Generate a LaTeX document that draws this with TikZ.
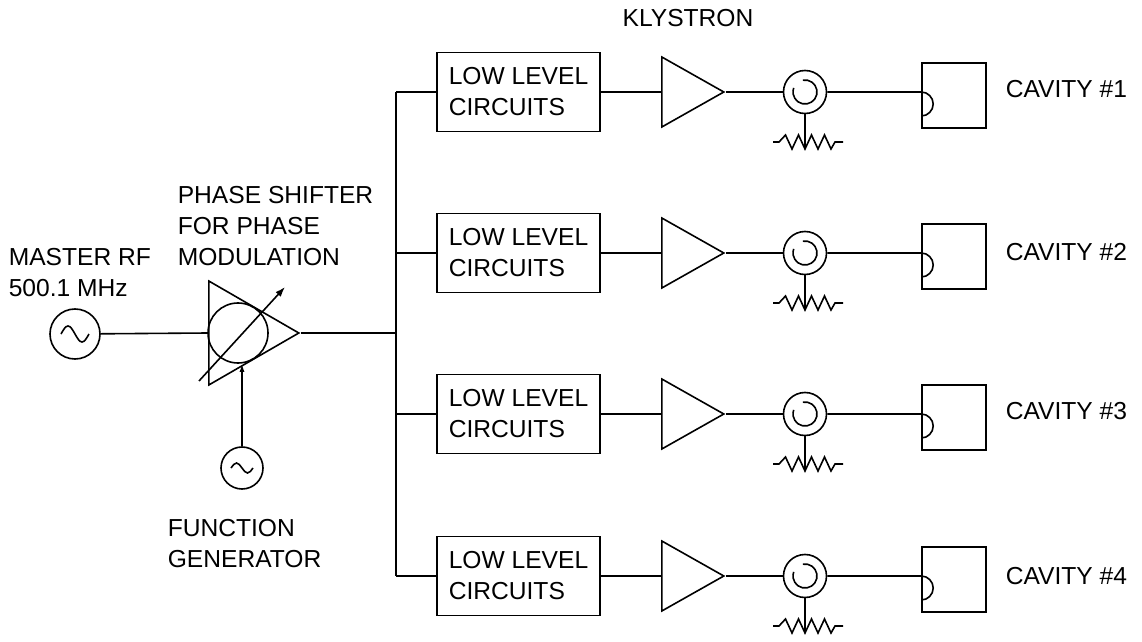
\documentclass[tikz,border=0pt]{standalone}
\usepackage{fontspec}
\setmainfont{Liberation Sans}
\usetikzlibrary{arrows.meta,positioning,shapes.geometric}
\tikzset{
  block/.style={rectangle, draw, align=left, minimum width=81.5pt, minimum height=39.5pt, inner sep=0pt},
  amp/.style={isosceles triangle, isosceles triangle stretches, shape border rotate=0, draw, inner sep=0pt},
  klystron/.style={amp, minimum width=35pt, minimum height=31pt},
  osc/.style={circle, draw, inner sep=0pt},
  circulator/.style={osc, minimum size=21.5pt},
  cavity/.style={rectangle, draw, minimum width=32pt, minimum height=32.5pt, inner sep=0pt},
  txt/.style={align=left, inner sep=0pt},
  tune/.style={-{Latex[length=5pt,width=3.5pt]}},
  sig/.style={-{Latex[length=4pt,width=2.5pt]}}
}

\begin{document}
\begin{tikzpicture}[x=0.5pt, y=-0.5pt, line width=0.8pt, font=\fontsize{12.3}{15.5}\selectfont]
  \useasboundingbox (0,0) rectangle (1142,642);

  % master oscillator and phase shifter
  \node[osc, minimum size=25pt] (mrf) at (75,334) {};
  \draw (mrf) ++(-14,0) sin ++(7,-8) cos ++(7,8) sin ++(7,8) cos ++(7,-8);
  \node[txt, anchor=west] (mrftxt) at (8,273) {MASTER RF\\500.1 MHz};
  \node[amp, minimum width=52pt, minimum height=45pt, anchor=lower side] (ps) at (208,333) {};
  \node[osc, minimum size=30pt] (psc) at (238,333) {};
  \draw[tune] (psc) ++(-39,48) -- ++(86,-94);
  \node[txt, anchor=west] (pstxt) at (177,226) {PHASE SHIFTER\\FOR PHASE\\MODULATION};
  \node[osc, minimum size=21pt] (fgen) at (242,468) {};
  \draw (fgen) ++(-11,0) sin ++(5.5,-5) cos ++(5.5,5) sin ++(5.5,5) cos ++(5.5,-5);
  \node[txt, anchor=west] (fgentxt) at (167,544) {FUNCTION\\GENERATOR};
  \draw (mrf) -- (ps.lower side);
  \draw[sig] (fgen) -- (fgen |- psc.south);

  % distribution bus
  \coordinate (b1) at (396,92);
  \coordinate (b2) at (396,253);
  \coordinate (b3) at (396,414);
  \coordinate (b4) at (396,576);
  \draw (b1) -- (b4);
  \draw (ps.apex) -- (ps.apex -| b1);
  \node[txt] (klytxt) at (688,18) {KLYSTRON};

  % station 1
  \node[block] (llc1) at (518.5,92) {LOW LEVEL\\CIRCUITS};
  \node[klystron, anchor=lower side] (kly1) at (661,92) {};
  \node[circulator] (circ1) at (805,92) {};
  \coordinate (res1) at (805,149);
  \node[cavity] (cav1) at (954,95.5) {};
  \node[txt, anchor=west] (cavtxt1) at (1005,89) {CAVITY \#1};
  \draw (b1) -- (llc1);
  \draw (llc1) -- (kly1.lower side);
  \draw (kly1.apex) -- (circ1);
  \draw (circ1) -- (res1);
  \draw (circ1) -- (cav1.west |- circ1) arc[start angle=-90, end angle=90, radius=12];
  \draw (circ1) ++(-100:12) arc[start angle=-100, end angle=200, radius=12];
  \draw (res1) ++(-32,-7) -- ++(6,0) -- ++(6.5,-7) -- ++(6.5,14) -- ++(6.5,-14) -- ++(6.5,14)
    -- ++(6.5,-14) -- ++(6.5,14) -- ++(6.5,-14) -- ++(6.5,14) -- ++(4,-7) -- ++(8,0);

  % station 2
  \node[block] (llc2) at (518.5,253) {LOW LEVEL\\CIRCUITS};
  \node[klystron, anchor=lower side] (kly2) at (661,253) {};
  \node[circulator] (circ2) at (805,253) {};
  \coordinate (res2) at (805,310);
  \node[cavity] (cav2) at (954,256.5) {};
  \node[txt, anchor=west] (cavtxt2) at (1005,252) {CAVITY \#2};
  \draw (b2) -- (llc2);
  \draw (llc2) -- (kly2.lower side);
  \draw (kly2.apex) -- (circ2);
  \draw (circ2) -- (res2);
  \draw (circ2) -- (cav2.west |- circ2) arc[start angle=-90, end angle=90, radius=12];
  \draw (circ2) ++(-100:12) arc[start angle=-100, end angle=200, radius=12];
  \draw (res2) ++(-32,-7) -- ++(6,0) -- ++(6.5,-7) -- ++(6.5,14) -- ++(6.5,-14) -- ++(6.5,14)
    -- ++(6.5,-14) -- ++(6.5,14) -- ++(6.5,-14) -- ++(6.5,14) -- ++(4,-7) -- ++(8,0);

  % station 3
  \node[block] (llc3) at (518.5,414) {LOW LEVEL\\CIRCUITS};
  \node[klystron, anchor=lower side] (kly3) at (661,414) {};
  \node[circulator] (circ3) at (805,414) {};
  \coordinate (res3) at (805,471);
  \node[cavity] (cav3) at (954,417.5) {};
  \node[txt, anchor=west] (cavtxt3) at (1005,411) {CAVITY \#3};
  \draw (b3) -- (llc3);
  \draw (llc3) -- (kly3.lower side);
  \draw (kly3.apex) -- (circ3);
  \draw (circ3) -- (res3);
  \draw (circ3) -- (cav3.west |- circ3) arc[start angle=-90, end angle=90, radius=12];
  \draw (circ3) ++(-100:12) arc[start angle=-100, end angle=200, radius=12];
  \draw (res3) ++(-32,-7) -- ++(6,0) -- ++(6.5,-7) -- ++(6.5,14) -- ++(6.5,-14) -- ++(6.5,14)
    -- ++(6.5,-14) -- ++(6.5,14) -- ++(6.5,-14) -- ++(6.5,14) -- ++(4,-7) -- ++(8,0);

  % station 4
  \node[block] (llc4) at (518.5,576) {LOW LEVEL\\CIRCUITS};
  \node[klystron, anchor=lower side] (kly4) at (661,576) {};
  \node[circulator] (circ4) at (805,576) {};
  \coordinate (res4) at (805,633);
  \node[cavity] (cav4) at (954,579.5) {};
  \node[txt, anchor=west] (cavtxt4) at (1005,576) {CAVITY \#4};
  \draw (b4) -- (llc4);
  \draw (llc4) -- (kly4.lower side);
  \draw (kly4.apex) -- (circ4);
  \draw (circ4) -- (res4);
  \draw (circ4) -- (cav4.west |- circ4) arc[start angle=-90, end angle=90, radius=12];
  \draw (circ4) ++(-100:12) arc[start angle=-100, end angle=200, radius=12];
  \draw (res4) ++(-32,-7) -- ++(6,0) -- ++(6.5,-7) -- ++(6.5,14) -- ++(6.5,-14) -- ++(6.5,14)
    -- ++(6.5,-14) -- ++(6.5,14) -- ++(6.5,-14) -- ++(6.5,14) -- ++(4,-7) -- ++(8,0);
\end{tikzpicture}
\end{document}
